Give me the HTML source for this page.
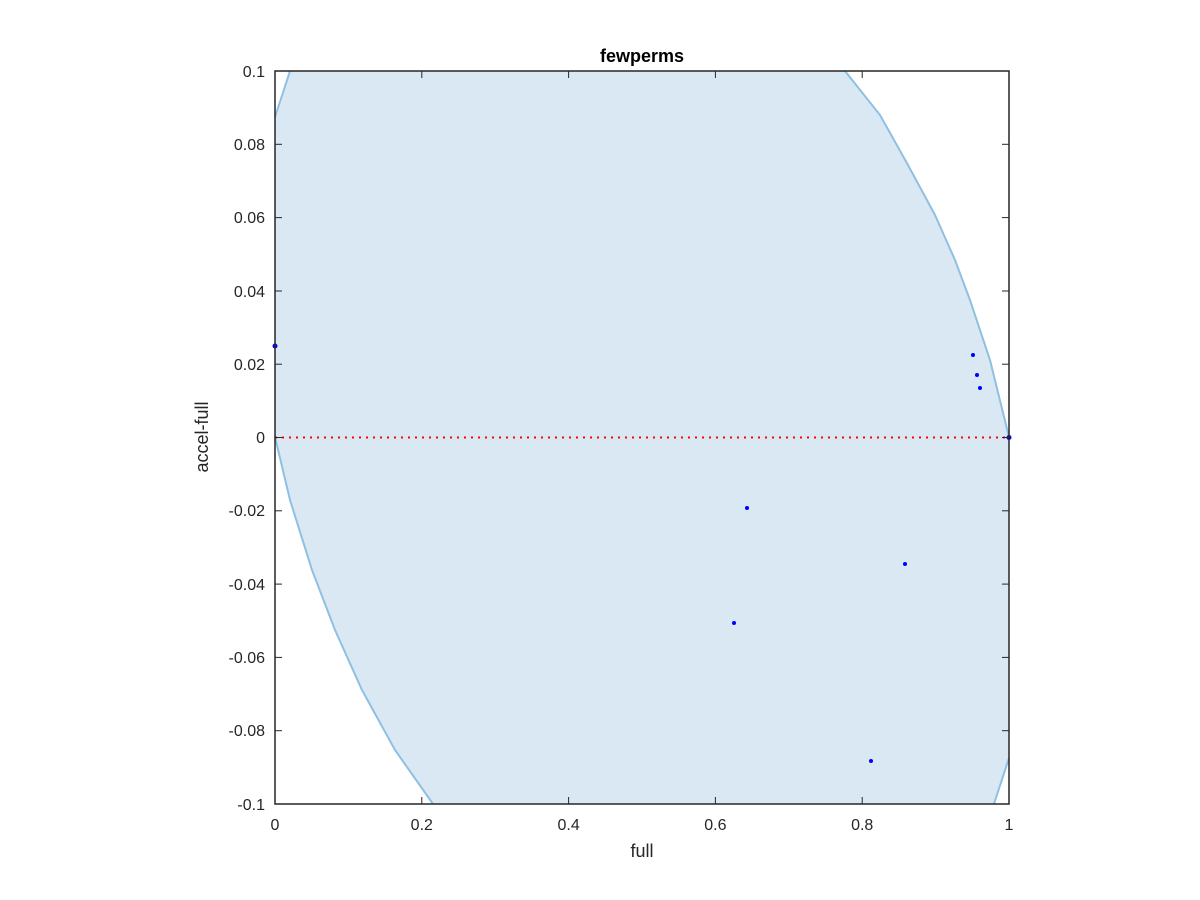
<!DOCTYPE html>
<html><head><style>body{margin:0;background:#fff}svg{display:block}text{font-family:"Liberation Sans",sans-serif;fill:#262626}</style></head>
<body>
<svg width="1200" height="900" viewBox="0 0 1200 900">
<rect width="1200" height="900" fill="#fff"/>
<polygon points="275,117 290,71 845,71 880,115 908,165 935,215 955,260 970,300 990,360 1009,437 1009,758 994,804 433,804 395,750 362,690 335,630 312,570 290,500 275,437" fill="#dae8f3"/>
<polyline points="275,117 290,71" fill="none" stroke="#8fc0e2" stroke-width="2"/>
<polyline points="845,71 880,115 908,165 935,215 955,260 970,300 990,360 1009,437" fill="none" stroke="#8fc0e2" stroke-width="2"/>
<polyline points="275,437 290,500 312,570 335,630 362,690 395,750 433,804" fill="none" stroke="#8fc0e2" stroke-width="2"/>
<polyline points="1009,758 994,804" fill="none" stroke="#8fc0e2" stroke-width="2"/>
<line x1="275" y1="437.5" x2="1009" y2="437.5" stroke="#ff0000" stroke-width="2" stroke-dasharray="2,5"/>
<g fill="#0000ff">
<circle cx="275" cy="346" r="2.5"/><circle cx="973" cy="355" r="2"/><circle cx="977" cy="375" r="2"/><circle cx="980" cy="388" r="2"/>
<circle cx="747" cy="508" r="2"/><circle cx="905" cy="564" r="2"/><circle cx="734" cy="623" r="2"/><circle cx="871" cy="761" r="2"/><circle cx="1009" cy="437.5" r="2.5"/>
</g>
<rect x="275" y="71" width="734" height="733" fill="none" stroke="#262626" stroke-width="1.5"/>
<g stroke="#262626" stroke-width="1">
<line x1="275" y1="804" x2="275" y2="797"/><line x1="421.8" y1="804" x2="421.8" y2="797"/><line x1="568.6" y1="804" x2="568.6" y2="797"/><line x1="715.4" y1="804" x2="715.4" y2="797"/><line x1="862.2" y1="804" x2="862.2" y2="797"/>
<line x1="421.8" y1="71" x2="421.8" y2="78"/><line x1="568.6" y1="71" x2="568.6" y2="78"/><line x1="715.4" y1="71" x2="715.4" y2="78"/><line x1="862.2" y1="71" x2="862.2" y2="78"/>
<line x1="275" y1="144.3" x2="282" y2="144.3"/><line x1="275" y1="217.6" x2="282" y2="217.6"/><line x1="275" y1="291" x2="282" y2="291"/><line x1="275" y1="364.2" x2="282" y2="364.2"/><line x1="275" y1="437.5" x2="282" y2="437.5"/><line x1="275" y1="510.8" x2="282" y2="510.8"/><line x1="275" y1="584.1" x2="282" y2="584.1"/><line x1="275" y1="657.4" x2="282" y2="657.4"/><line x1="275" y1="730.7" x2="282" y2="730.7"/>
<line x1="1009" y1="144.3" x2="1002" y2="144.3"/><line x1="1009" y1="217.6" x2="1002" y2="217.6"/><line x1="1009" y1="291" x2="1002" y2="291"/><line x1="1009" y1="364.2" x2="1002" y2="364.2"/><line x1="1009" y1="437.5" x2="1002" y2="437.5"/><line x1="1009" y1="510.8" x2="1002" y2="510.8"/><line x1="1009" y1="584.1" x2="1002" y2="584.1"/><line x1="1009" y1="657.4" x2="1002" y2="657.4"/><line x1="1009" y1="730.7" x2="1002" y2="730.7"/>
</g>
<g font-size="16" text-anchor="middle">
<text x="275" y="830">0</text><text x="421.8" y="830">0.2</text><text x="568.6" y="830">0.4</text><text x="715.4" y="830">0.6</text><text x="862.2" y="830">0.8</text><text x="1009" y="830">1</text>
</g>
<g font-size="16" text-anchor="end">
<text x="265" y="77">0.1</text><text x="265" y="150">0.08</text><text x="265" y="223">0.06</text><text x="265" y="297">0.04</text><text x="265" y="370">0.02</text><text x="265" y="443">0</text><text x="265" y="516">-0.02</text><text x="265" y="590">-0.04</text><text x="265" y="663">-0.06</text><text x="265" y="736">-0.08</text><text x="265" y="810">-0.1</text>
</g>
<text x="642" y="857" font-size="18" text-anchor="middle">full</text>
<text x="208" y="437" font-size="18" text-anchor="middle" transform="rotate(-90 208 437)">accel-full</text>
<text x="642" y="62" font-size="18" font-weight="bold" text-anchor="middle" style="fill:#000">fewperms</text>
</svg>
</body></html>
